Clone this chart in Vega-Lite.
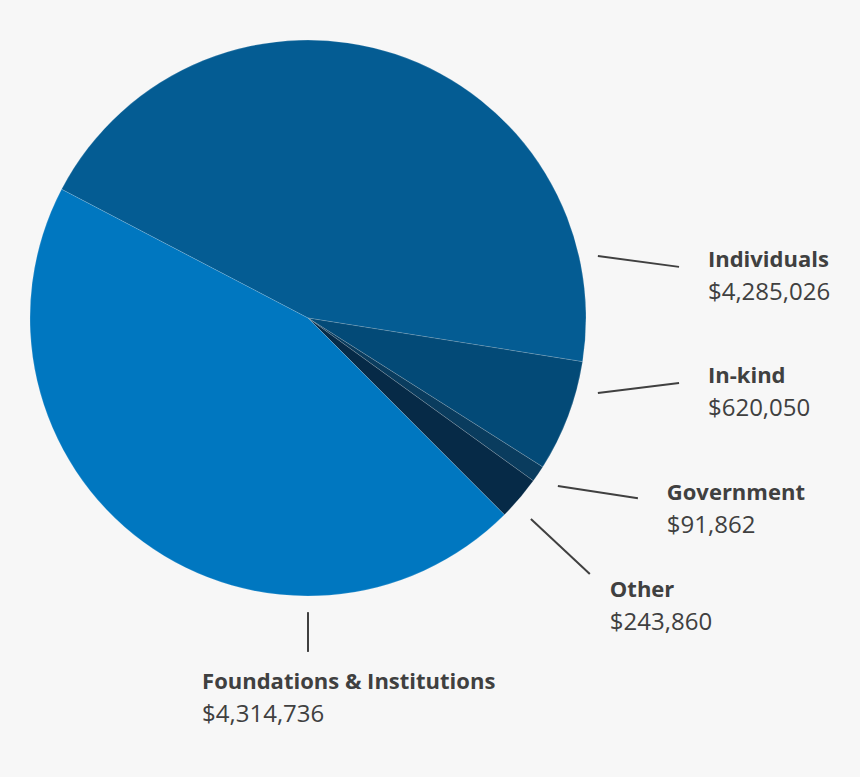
{
  "$schema": "https://vega.github.io/schema/vega-lite/v6.json",
  "width": 860,
  "height": 777,
  "padding": 0,
  "autosize": {"type": "fit", "contains": "padding"},
  "background": "#f7f7f7",
  "config": {"view": {"stroke": null}},
  "datasets": {
    "sources": [
      {"source": "Individuals", "amount": 4285026, "order": 1},
      {"source": "In-kind", "amount": 620050, "order": 2},
      {"source": "Government", "amount": 91862, "order": 3},
      {"source": "Other", "amount": 243860, "order": 4},
      {"source": "Foundations & Institutions", "amount": 4314736, "order": 5}
    ],
    "labels": [
      {"source": "Individuals", "amount": 4285026, "x1": 1.043, "y1": 0.223, "x2": 1.335, "y2": 0.184, "lx": 1.439, "ly": 0.184},
      {"source": "In-kind", "amount": 620050, "x1": 1.043, "y1": -0.270, "x2": 1.335, "y2": -0.234, "lx": 1.439, "ly": -0.234},
      {"source": "Government", "amount": 91862, "x1": 0.899, "y1": -0.604, "x2": 1.187, "y2": -0.648, "lx": 1.291, "ly": -0.655},
      {"source": "Other", "amount": 243860, "x1": 0.802, "y1": -0.723, "x2": 1.014, "y2": -0.921, "lx": 1.086, "ly": -1.004},
      {"source": "Foundations & Institutions", "amount": 4314736, "x1": 0.0, "y1": -1.058, "x2": 0.0, "y2": -1.201, "lx": -0.381, "ly": -1.335}
    ]
  },
  "layer": [
    {
      "data": {"name": "sources"},
      "mark": {"type": "arc", "outerRadius": 278, "stroke": "#ffffff", "strokeWidth": 0.6, "strokeOpacity": 0.25},
      "encoding": {
        "x": {"datum": 0, "type": "quantitative", "scale": {"domain": [-1.108, 1.986], "nice": false, "zero": false}, "axis": null},
        "y": {"datum": 0, "type": "quantitative", "scale": {"domain": [-1.651, 1.144], "nice": false, "zero": false}, "axis": null},
        "theta": {"field": "amount", "type": "quantitative", "stack": true, "scale": {"range": [5.194, 11.477]}},
        "order": {"field": "order", "type": "quantitative"},
        "color": {
          "field": "source", "type": "nominal", "legend": null,
          "scale": {
            "domain": ["Individuals", "In-kind", "Government", "Other", "Foundations & Institutions"],
            "range": ["#045c93", "#034a77", "#0a3c5e", "#062a47", "#0077c0"]
          }
        }
      }
    },
    {
      "data": {"name": "labels"},
      "mark": {"type": "rule", "color": "#404040", "strokeWidth": 2},
      "encoding": {
        "x": {"field": "x1", "type": "quantitative"},
        "y": {"field": "y1", "type": "quantitative"},
        "x2": {"field": "x2"},
        "y2": {"field": "y2"}
      }
    },
    {
      "data": {"name": "labels"},
      "mark": {"type": "text", "align": "left", "baseline": "alphabetic", "font": "Open Sans", "fontSize": 22, "fontWeight": "bold", "color": "#404040"},
      "encoding": {
        "x": {"field": "lx", "type": "quantitative"},
        "y": {"field": "ly", "type": "quantitative"},
        "text": {"field": "source"}
      }
    },
    {
      "data": {"name": "labels"},
      "mark": {"type": "text", "align": "left", "baseline": "alphabetic", "dy": 33, "font": "Open Sans", "fontSize": 24, "color": "#404040"},
      "encoding": {
        "x": {"field": "lx", "type": "quantitative"},
        "y": {"field": "ly", "type": "quantitative"},
        "text": {"field": "amount", "type": "quantitative", "format": "$,.0f"}
      }
    }
  ]
}
